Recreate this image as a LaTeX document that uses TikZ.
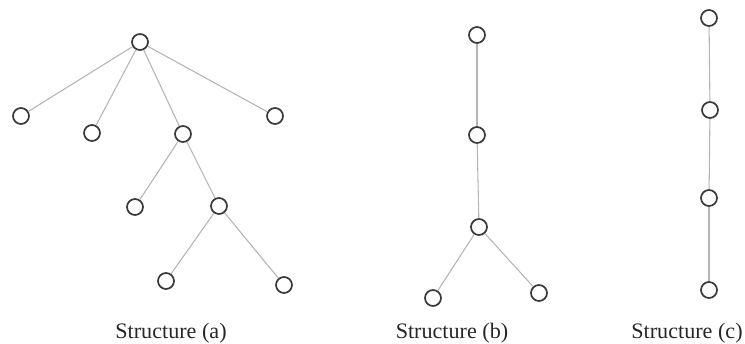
\documentclass[tikz,border=0pt]{standalone}
\usepackage{fontspec}
\setmainfont{Liberation Serif}
\usepackage{xcolor}
\definecolor{cNode}{HTML}{3A3A3A}
\definecolor{cEdge}{HTML}{B4B4B4}
\usepackage{tikz}
\usetikzlibrary{positioning}
\tikzset{
  node-vertex/.style={draw=cNode,line width=1.3pt,circle,fill=white,
    minimum size=12pt,inner sep=0pt},
  edge-tree/.style={draw=cEdge,line width=0.8pt},
  label-struct/.style={font=\fontsize{16.6}{18}\selectfont,text=black!85,inner sep=0pt},
}

\begin{document}
\begin{tikzpicture}[x=0.75pt,y=-0.75pt]
  \useasboundingbox (0,0) rectangle (745,343);
  % Structure (a)
  \node[node-vertex] (a0) at (140,42) {};
  \node[node-vertex] (a1) at (21,116) {};
  \node[node-vertex] (a2) at (92,133) {};
  \node[node-vertex] (a3) at (183,134) {};
  \node[node-vertex] (a4) at (275,116) {};
  \node[node-vertex] (a5) at (135,207) {};
  \node[node-vertex] (a6) at (219,206) {};
  \node[node-vertex] (a7) at (166,281) {};
  \node[node-vertex] (a8) at (284,285) {};
  \foreach \u/\v in {a0/a1,a0/a2,a0/a3,a0/a4,a3/a5,a3/a6,a6/a7,a6/a8}
    \draw[edge-tree] (\u) -- (\v);
  \node[label-struct] (la) at (171,333) {Structure (a)};
  % Structure (b)
  \node[node-vertex] (b0) at (477,35) {};
  \node[node-vertex] (b1) at (477,135) {};
  \node[node-vertex] (b2) at (479,227) {};
  \node[node-vertex] (b3) at (433,298) {};
  \node[node-vertex] (b4) at (539,293) {};
  \foreach \u/\v in {b0/b1,b1/b2,b2/b3,b2/b4}
    \draw[edge-tree] (\u) -- (\v);
  \node[label-struct] (lb) at (452,333) {Structure (b)};
  % Structure (c)
  \node[node-vertex] (c0) at (709,18) {};
  \node[node-vertex] (c1) at (710,110) {};
  \node[node-vertex] (c2) at (709,198) {};
  \node[node-vertex] (c3) at (709,290) {};
  \foreach \u/\v in {c0/c1,c1/c2,c2/c3}
    \draw[edge-tree] (\u) -- (\v);
  \node[label-struct] (lc) at (687,333) {Structure (c)};
\end{tikzpicture}
\end{document}
